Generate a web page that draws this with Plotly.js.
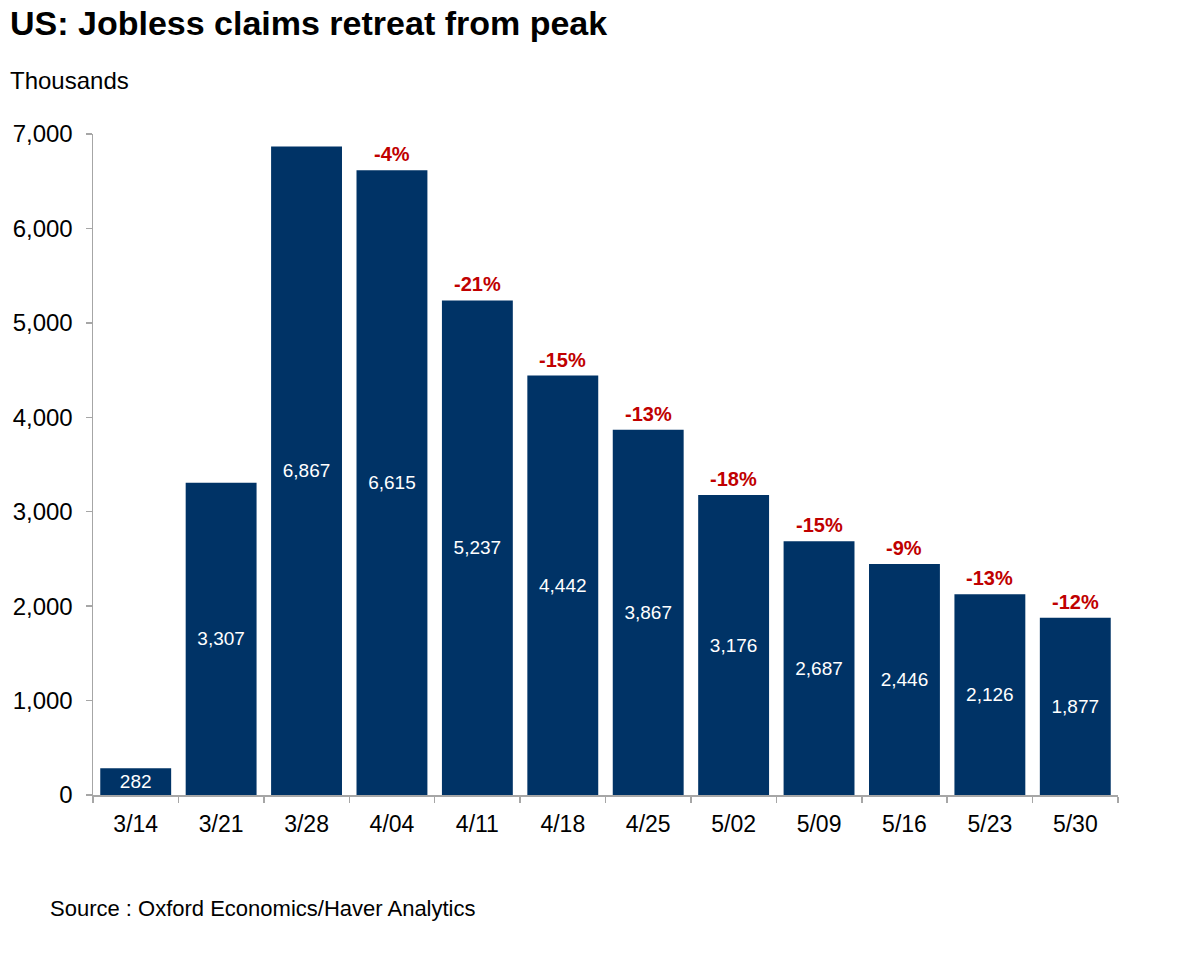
<!DOCTYPE html>
<html>
<head>
<meta charset="utf-8">
<script src="https://cdn.plot.ly/plotly-3.0.1.min.js"></script>
<style>body{margin:0;background:#fff;} #chart{width:1200px;height:957px;}</style>
</head>
<body>
<div id="chart"></div>
<script>
const weeks = ["3/14","3/21","3/28","4/04","4/11","4/18","4/25","5/02","5/09","5/16","5/23","5/30"];
const claims = [282,3307,6867,6615,5237,4442,3867,3176,2687,2446,2126,1877];
const pctChange = [null,null,null,-4,-21,-15,-13,-18,-15,-9,-13,-12];
const yTickVals = [0,1000,2000,3000,4000,5000,6000,7000];

const font = "Liberation Sans, Arial, sans-serif";

const trace = {
  type: "bar",
  x: weeks,
  y: claims,
  marker: {color: "#003366"},
  text: claims.map(v => v.toLocaleString("en-US")),
  textposition: "inside",
  insidetextanchor: "middle",
  textangle: 0,
  insidetextfont: {family: font, size: 19, color: "#ffffff"},
  hoverinfo: "x+y",
  constraintext: "none"
};

const annotations = [];
weeks.forEach((w, i) => {
  if (pctChange[i] !== null) {
    annotations.push({
      x: w, y: claims[i], xref: "x", yref: "y",
      text: "<b>" + pctChange[i] + "%</b>",
      showarrow: false, yanchor: "bottom", yshift: 3,
      font: {family: font, size: 20, color: "#C00000"}
    });
  }
});
annotations.push({
  xref: "paper", yref: "paper", x: 0, y: 1, xanchor: "left", yanchor: "middle",
  text: "Thousands", showarrow: false, xshift: -85, yshift: 54,
  font: {family: font, size: 24, color: "#000"}
});
annotations.push({
  xref: "paper", yref: "paper", x: 0, y: 0, xanchor: "left", yanchor: "middle",
  text: "Source : Oxford Economics/Haver Analytics", showarrow: false, xshift: -45, yshift: -113,
  font: {family: font, size: 22, color: "#000"}
});

const layout = {
  width: 1200, height: 957,
  margin: {l: 93, r: 82, t: 134, b: 162},
  paper_bgcolor: "#fff", plot_bgcolor: "#fff",
  title: {text: "<b>US: Jobless claims retreat from peak</b>", x: 10/1200, xanchor: "left",
          yref: "container", y: 1 - 23/957, yanchor: "middle",
          font: {family: font, size: 34, color: "#000"}},
  bargap: 0.17,
  showlegend: false,
  xaxis: {
    type: "category",
    showline: true, linecolor: "#a6a6a6", linewidth: 1.5,
    ticks: "outside", tickson: "boundaries", ticklen: 6, tickcolor: "#a6a6a6", tickwidth: 1.5,
    ticklabelstandoff: 8,
    tickfont: {family: font, size: 23, color: "#000"},
    showgrid: false, zeroline: false
  },
  yaxis: {
    range: [0, 7000],
    tickvals: yTickVals,
    ticktext: yTickVals.map(v => v.toLocaleString("en-US")),
    showline: true, linecolor: "#a6a6a6", linewidth: 1.5,
    ticks: "outside", ticklen: 6, tickcolor: "#a6a6a6", tickwidth: 1.5,
    ticklabelstandoff: 8,
    tickfont: {family: font, size: 24, color: "#000"},
    showgrid: false, zeroline: false
  },
  annotations: annotations
};

Plotly.newPlot("chart", [trace], layout, {displayModeBar: false, staticPlot: true});
</script>
</body>
</html>
